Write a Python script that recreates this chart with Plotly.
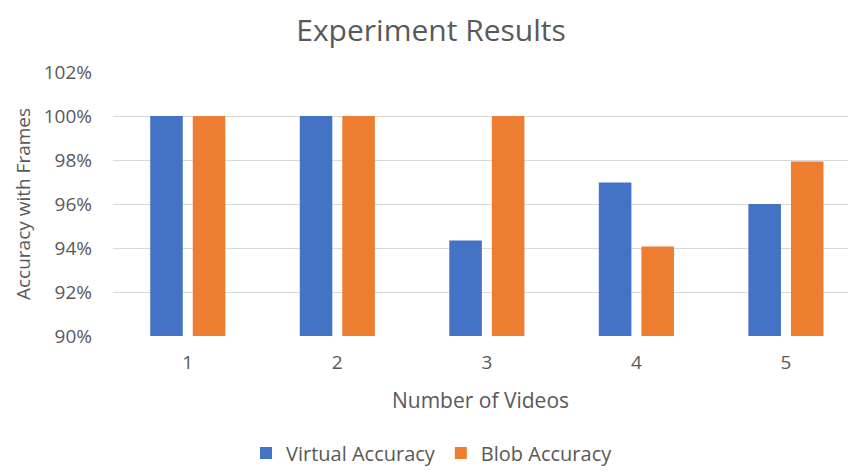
import plotly.graph_objects as go

categories = ["1", "2", "3", "4", "5"]
virtual_accuracy = [1.00, 1.00, 0.9434, 0.9698, 0.9600]
blob_accuracy = [1.00, 1.00, 1.00, 0.9407, 0.9793]
series_names = ["Virtual Accuracy", "Blob Accuracy"]
y_ticks = [0.90, 0.92, 0.94, 0.96, 0.98, 1.00, 1.02]

FONT = "Open Sans"
TXT = "#595959"

fig = go.Figure()
fig.add_trace(go.Bar(x=categories, y=virtual_accuracy, name=series_names[0],
                     marker=dict(color="#4472C4", line=dict(width=0))))
fig.add_trace(go.Bar(x=categories, y=blob_accuracy, name=series_names[1],
                     marker=dict(color="#ED7D31", line=dict(width=0))))

fig.update_layout(
    width=848, height=472,
    margin=dict(l=113, r=0, t=72, b=136, autoexpand=False),
    paper_bgcolor="white", plot_bgcolor="white",
    font=dict(family=FONT, color=TXT, size=16),
    title=dict(text="Experiment Results", x=431/848, xanchor="center", xref="container",
               y=1 - 30/472, yanchor="middle", yref="container",
               font=dict(size=30, color=TXT, family=FONT)),
    barmode="group", bargap=0.431, bargroupgap=0.235,
    showlegend=True,
    legend=dict(orientation="h", x=432/848, xanchor="center", xref="container",
                y=1 - 453/472, yanchor="middle", yref="container",
                font=dict(size=20, color=TXT), itemwidth=30, tracegroupgap=0),
)
fig.update_xaxes(type="category", range=[-0.5, 4.415], showgrid=False, showline=False,
                 ticks="", ticklabelstandoff=13, tickfont=dict(size=19, color=TXT),
                 title=dict(text="Number of Videos", font=dict(size=21, color=TXT), standoff=19))
fig.update_yaxes(range=[0.90, 1.02], tickvals=y_ticks, tickformat=".0%",
                 showgrid=True, gridcolor="#D9D9D9", gridwidth=1, zeroline=False,
                 showline=False, ticks="", ticklabelstandoff=20,
                 tickfont=dict(size=19, color=TXT),
                 title=dict(text="Accuracy with Frames", font=dict(size=19, color=TXT), standoff=8))

fig.write_html("out.html")
